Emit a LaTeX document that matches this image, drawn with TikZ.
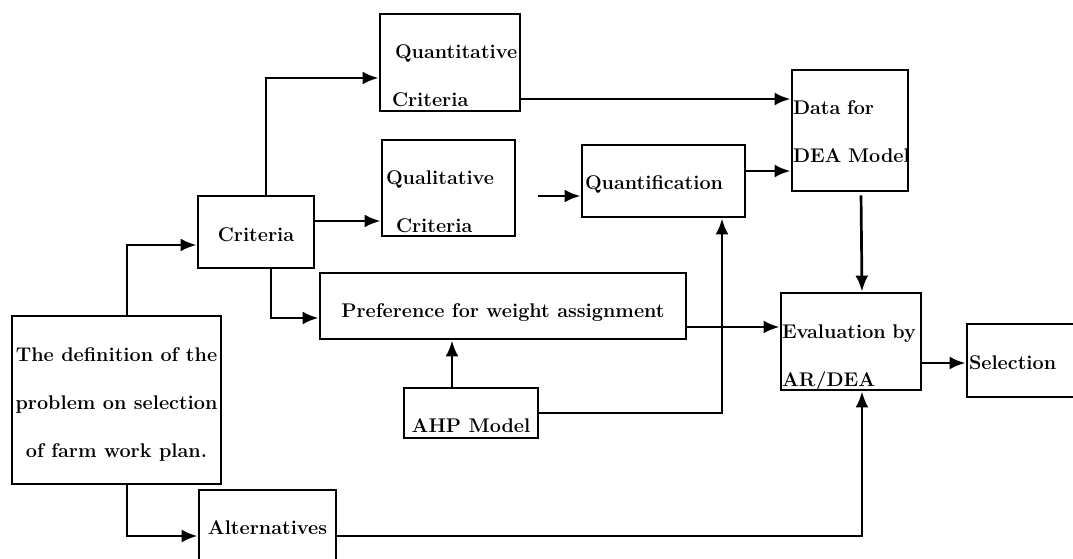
\documentclass[tikz,border=0pt]{standalone}
\usepackage{tikz}
\usetikzlibrary{arrows.meta}

\newcommand{\linesl}[2]{\raisebox{#1}{\begin{tabular}{@{}l@{}}#2\end{tabular}}}
\newcommand{\linesc}[2]{\raisebox{#1}{\begin{tabular}{@{}c@{}}#2\end{tabular}}}

\begin{document}
\begin{tikzpicture}[x=1pt,y=-1pt]
    \tikzset{
      boxnode/.style={rectangle,draw=black,line width=2.9pt,inner sep=1pt,text height=0pt,text depth=0pt,font=\fontsize{19.8}{24}\selectfont\bfseries},
      leftnode/.style={boxnode,align=left},
      midnode/.style={boxnode},
      arrow/.style={-{Latex[length=16pt,width=13pt]},line width=2.7pt}
    }
    \useasboundingbox (0,0) rectangle (1073,559);
    \node[leftnode,minimum width=140pt,minimum height=97pt,text width=138pt](quanti) at (450,62.5){\linesl{-20.5pt}{\hspace*{14pt}Quantitative\\[24pt]\hspace*{11pt}Criteria}};
    \node[leftnode,minimum width=133pt,minimum height=96pt,text width=131pt](quali) at (448.5,188){\linesl{-20.5pt}{\hspace*{3pt}Qualitative\\[24pt]\hspace*{13pt}Criteria}};
    \node[midnode,minimum width=116pt,minimum height=72pt](crit) at (256,232){\linesc{-10pt}{Criteria}};
    \node[leftnode,minimum width=163pt,minimum height=72pt,text width=161pt](quantif) at (663.5,181){\linesl{-9pt}{\hspace*{2pt}Quantification}};
    \node[leftnode,minimum width=116pt,minimum height=121pt,text width=114pt](data) at (850,130.5){\linesl{-8.5pt}{Data for\\[24pt]DEA Model}};
    \node[midnode,minimum width=366pt,minimum height=66pt](pref) at (503,306){\linesc{-12pt}{Preference for weight assignment}};
    \node[midnode,minimum width=134pt,minimum height=50pt](ahp) at (471,413){\linesc{-20pt}{AHP Model}};
    \node[midnode,minimum width=209pt,minimum height=168pt](def) at (116.5,400){\linesc{-10pt}{The definition of the\\[24pt]problem on selection\\[24pt]of farm work plan.}};
    \node[midnode,minimum width=137pt,minimum height=76pt](alt) at (267.5,528){\linesc{-7pt}{Alternatives}};
    \node[leftnode,minimum width=140pt,minimum height=97pt,text width=138pt](eval) at (851,341.5){\linesl{-21.5pt}{Evaluation by\\[24pt]AR/DEA}};
    \node[leftnode,minimum width=115pt,minimum height=73pt,text width=113pt](sel) at (1024.5,360.5){\linesl{-9.5pt}{\hspace*{1pt}Selection}};

    \draw[arrow]([xshift=10pt]crit.north) |- ([yshift=-15.5pt]quanti.west);
    \draw[arrow]([yshift=11pt]crit.east) -- ([yshift=-33pt]quali.west);
    \draw[arrow]([xshift=10.5pt]def.north) |- ([yshift=-13pt]crit.west);
    \draw[arrow]([xshift=15pt]crit.south) |- ([yshift=-12pt]pref.west);
    \draw[arrow]([xshift=10.5pt]def.south) |- ([yshift=-8pt]alt.west);
    \draw[arrow]([yshift=-8pt]alt.east) -| ([xshift=11pt]eval.south);
    \draw[arrow]([yshift=-36.5pt]quanti.east) -- ([yshift=31.5pt]data.west);
    \draw[arrow,shorten <=22pt]([yshift=-8pt]quali.east) -- ([yshift=-15pt]quantif.west);
    \draw[arrow]([yshift=10pt]quantif.east) -- ([yshift=-40.5pt]data.west);
    \draw[arrow](ahp.east) -| ([xshift=58.5pt]quantif.south);
    \draw[arrow]([xshift=-19pt]ahp.north) -- ([xshift=-51pt]pref.south);
    \draw[arrow]([yshift=-21pt]pref.east) -- ([yshift=14.5pt]eval.west);
    \draw[arrow,shorten <=3pt]([xshift=11pt]data.south) -- ([xshift=11pt]eval.north);
    \draw[arrow]([yshift=-21.5pt]eval.east) -- ([yshift=-2.5pt]sel.west);
  \end{tikzpicture}
\end{document}
